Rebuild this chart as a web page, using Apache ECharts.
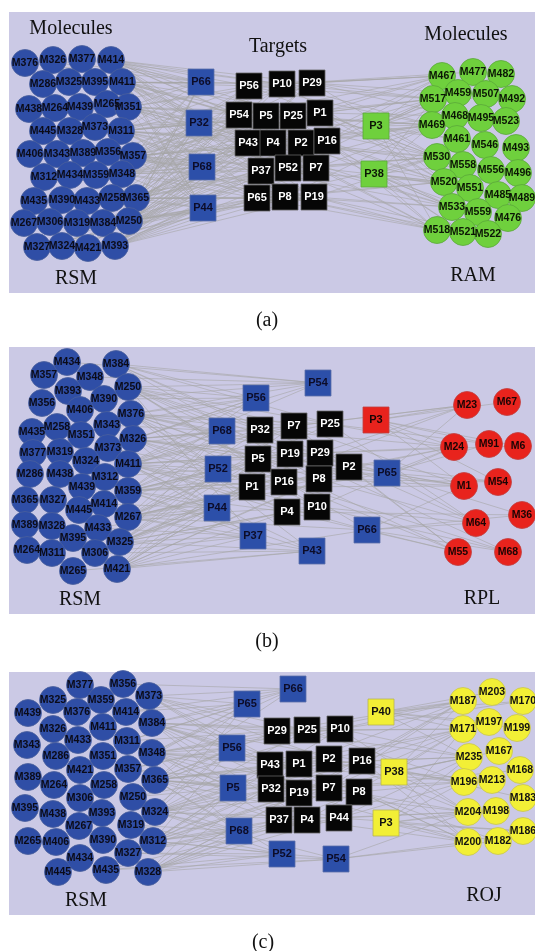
<!DOCTYPE html>
<html>
<head>
<meta charset="utf-8">
<script src="https://cdn.jsdelivr.net/npm/echarts@6/dist/echarts.min.js"></script>
<style>
  html, body { margin: 0; padding: 0; background: #fff; }
  #main { width: 535px; height: 951px; }
</style>
</head>
<body>
<div id="main"></div>
<script>
// ---- panel (a): RSM / RAM ----
var rsmA = [
  ['M376',25,63],['M326',53,60],['M377',82,59],['M414',111,60],
  ['M286',43,84],['M325',69,82],['M395',95,82],['M411',122,82],
  ['M438',29,109],['M264',55,108],['M439',80,107],['M265',107,104],['M351',128,107],
  ['M445',43,131],['M328',70,131],['M373',95,127],['M311',121,131],
  ['M406',30,154],['M343',57,154],['M389',83,153],['M356',108,152],['M357',133,156],
  ['M312',44,177],['M434',70,175],['M359',96,175],['M348',122,174],
  ['M435',34,201],['M390',62,200],['M433',87,201],['M258',112,198],['M365',136,198],
  ['M267',24,223],['M306',50,222],['M319',77,223],['M384',103,223],['M250',129,221],
  ['M327',37,247],['M324',62,246],['M421',88,248],['M393',115,246]
];
var ramA = [
  ['M467',442,76],['M477',473,72],['M482',501,74],
  ['M517',433,99],['M459',458,93],['M507',486,94],['M492',512,99],
  ['M469',432,125],['M468',455,116],['M495',481,118],['M523',506,121],
  ['M461',457,139],['M546',485,145],['M493',516,148],
  ['M530',437,157],['M558',463,165],['M556',491,170],['M496',518,173],
  ['M520',444,182],['M551',470,188],['M485',498,195],['M489',522,198],
  ['M533',452,207],['M559',478,212],['M476',508,218],
  ['M518',437,230],['M521',463,232],['M522',488,234]
];
var blueTargetsA = [['P66',201,82],['P32',199,123],['P68',202,167],['P44',203,208]];
var blackTargetsA = [
  ['P56',249,86],['P10',282,84],['P29',312,83],
  ['P54',239,115],['P5',266,116],['P25',293,116],['P1',320,113],
  ['P43',248,143],['P4',273,143],['P2',301,143],['P16',327,141],
  ['P37',261,171],['P52',288,168],['P7',316,168],
  ['P65',257,198],['P8',285,197],['P19',314,197]
];
var greenTargetsA = [['P3',376,126],['P38',374,174]];
var linksA = {
  P66: 'M376 M326 M377 M414 M411 M395 M351 M265 M311 M357 M348 M365 M250 M393',
  P32: 'M414 M411 M351 M311 M373 M357 M356 M348 M365 M258 M250 M384 M393 M421',
  P68: 'M414 M411 M351 M311 M357 M348 M359 M365 M250 M393 M324 M389 M343',
  P44: 'M414 M411 M265 M351 M311 M357 M348 M365 M258 M250 M384 M393 M327 M421',
  P56: 'M414 M411 M351 M311 M357 M348 M365 M250 M467 M517 M469 M530',
  P10: 'M377 M414 M395 M351 M357 M365 M393 M467 M477 M517 M469 M520',
  P29: 'M414 M411 M311 M348 M250 M393 M467 M459 M517 M468 M530',
  P54: 'M326 M414 M411 M351 M311 M357 M365 M258 M250 M421 M467 M469 M530 M520',
  P5:  'M414 M411 M373 M311 M357 M359 M348 M384 M393 M517 M469 M461 M533',
  P25: 'M414 M351 M311 M356 M357 M365 M250 M393 M467 M517 M469 M530 M518',
  P1:  'M411 M351 M311 M357 M348 M365 M250 M467 M517 M468 M530 M520',
  P43: 'M414 M411 M351 M311 M357 M348 M365 M258 M250 M393 M469 M530 M533',
  P4:  'M411 M265 M311 M357 M348 M365 M384 M393 M517 M469 M520 M518',
  P2:  'M414 M351 M311 M357 M348 M365 M250 M324 M467 M469 M530 M558 M533',
  P16: 'M411 M351 M311 M357 M365 M250 M393 M467 M517 M469 M520 M521',
  P37: 'M414 M411 M311 M357 M348 M365 M250 M393 M421 M469 M530 M520 M533',
  P52: 'M351 M311 M357 M348 M365 M258 M250 M393 M517 M530 M518',
  P7:  'M411 M311 M357 M365 M250 M384 M393 M469 M530 M520 M533 M518',
  P65: 'M414 M311 M357 M348 M365 M258 M250 M393 M421 M327 M530 M520 M518',
  P8:  'M411 M311 M357 M365 M250 M393 M324 M469 M520 M533 M518 M521',
  P19: 'M414 M351 M357 M348 M365 M250 M384 M393 M530 M533 M518 M522',
  P3:  'M467 M517 M469 M459 M468 M530 M461 M520 M533 M518 M482 M507',
  P38: 'M469 M530 M520 M558 M533 M518 M521 M551 M559 M461 M517 M489'
};

// ---- panel (b): RSM / RPL ----
var rsmB = [
  ['M434',67,362],['M384',116,364],['M357',44,375],['M348',90,377],
  ['M393',68,391],['M250',128,387],['M390',104,399],['M356',42,403],
  ['M406',80,410],['M376',131,414],['M435',32,432],['M258',57,427],
  ['M343',107,425],['M351',81,435],['M326',133,439],['M377',33,453],
  ['M319',60,452],['M373',108,448],['M324',86,461],['M411',128,464],
  ['M286',30,474],['M438',60,474],['M312',105,477],['M439',82,487],
  ['M359',128,491],['M365',25,500],['M327',53,500],['M414',104,504],
  ['M445',79,510],['M267',128,517],['M389',25,525],['M328',52,526],
  ['M433',98,528],['M395',73,538],['M325',120,542],['M264',27,550],
  ['M311',52,553],['M306',95,553],['M265',73,571],['M421',117,569]
];
var rplB = [
  ['M23',467,405],['M67',507,402],['M24',454,447],['M91',489,444],['M6',518,446],
  ['M1',464,486],['M54',498,482],['M64',476,523],['M36',522,515],
  ['M55',458,552],['M68',508,552]
];
var blueTargetsB = [
  ['P54',318,383],['P56',256,398],['P68',222,431],['P52',218,469],['P44',217,508],
  ['P37',253,536],['P43',312,551],['P66',367,530],['P65',387,473]
];
var blackTargetsB = [
  ['P32',260,430],['P7',294,426],['P25',330,424],
  ['P5',258,459],['P19',290,454],['P29',320,453],['P2',349,467],
  ['P1',252,487],['P16',284,482],['P8',319,479],
  ['P4',287,512],['P10',317,507]
];
var redTargetsB = [['P3',376,420]];
var linksB = {
  P54: 'M384 M250 M434 M348 M376 M390 M326 M411',
  P56: 'M384 M250 M376 M390 M343 M326 M411 M359 M373',
  P68: 'M250 M376 M326 M411 M359 M267 M325 M343 M373 M312',
  P52: 'M376 M326 M411 M359 M267 M325 M421 M414 M312 M373',
  P44: 'M326 M411 M359 M267 M325 M421 M306 M433 M414',
  P37: 'M411 M359 M267 M325 M421 M306 M433 M250',
  P43: 'M359 M267 M325 M421 M306 M265 M411 M376',
  P66: 'M250 M411 M267 M421 M55 M64 M68 M36 M1',
  P65: 'M376 M326 M359 M267 M23 M24 M1 M54 M64 M91',
  P3:  'M23 M67 M24 M91 M6 M1 M54',
  P32: 'M384 M250 M376 M326 M411 M359 M267 M23 M24',
  P7:  'M250 M376 M326 M411 M359 M325 M23 M1 M55',
  P25: 'M384 M250 M376 M411 M267 M24 M91 M64',
  P5:  'M376 M326 M411 M359 M267 M325 M421 M1 M55',
  P19: 'M250 M326 M411 M359 M267 M421 M24 M54 M68',
  P29: 'M384 M376 M411 M359 M325 M23 M6 M36',
  P2:  'M250 M326 M359 M267 M421 M24 M1 M64 M55',
  P1:  'M376 M411 M359 M267 M325 M421 M306 M23 M1',
  P16: 'M250 M326 M411 M267 M325 M24 M55 M68',
  P8:  'M384 M376 M359 M267 M421 M1 M54 M64',
  P4:  'M326 M411 M359 M325 M421 M306 M55 M36',
  P10: 'M250 M376 M411 M267 M325 M24 M64 M68'
};

// ---- panel (c): RSM / ROJ ----
var rsmC = [
  ['M377',80,685],['M356',123,684],['M325',53,700],['M359',101,700],['M373',149,696],
  ['M439',28,713],['M376',77,712],['M414',126,712],['M326',53,729],['M411',103,727],
  ['M384',152,723],['M343',27,745],['M433',78,740],['M311',127,741],['M286',56,756],
  ['M351',103,756],['M348',152,753],['M421',80,770],['M357',128,769],['M389',28,777],
  ['M264',54,785],['M258',104,785],['M365',155,780],['M306',80,798],['M250',133,797],
  ['M395',25,808],['M438',53,814],['M393',102,813],['M324',155,812],['M267',79,826],
  ['M319',131,825],['M265',28,841],['M406',56,842],['M390',103,840],['M312',153,841],
  ['M434',80,858],['M327',128,853],['M445',58,872],['M435',106,870],['M328',148,872]
];
var rojC = [
  ['M187',463,701],['M203',492,692],['M170',523,701],
  ['M171',463,729],['M197',489,722],['M199',517,728],
  ['M235',469,757],['M167',499,751],['M168',520,770],
  ['M196',464,782],['M213',492,780],['M183',523,798],
  ['M204',468,812],['M198',496,811],['M186',523,831],
  ['M200',468,842],['M182',498,841]
];
var blueTargetsC = [
  ['P66',293,689],['P65',247,704],['P56',232,748],['P5',233,788],
  ['P68',239,831],['P52',282,854],['P54',336,859]
];
var blackTargetsC = [
  ['P29',277,731],['P25',307,730],['P10',340,729],
  ['P43',270,765],['P1',299,764],['P2',329,759],['P16',362,761],
  ['P32',271,789],['P19',299,793],['P7',329,788],['P8',359,792],
  ['P37',279,820],['P4',307,820],['P44',339,818]
];
var yellowTargetsC = [['P40',381,712],['P38',394,772],['P3',386,823]];
var linksC = {
  P66: 'M373 M384 M414 M356 M348 M311 M365',
  P65: 'M373 M384 M348 M365 M311 M414 M324 M357',
  P56: 'M373 M384 M348 M365 M324 M312 M250 M357 M319',
  P5:  'M384 M348 M365 M324 M312 M328 M250 M319 M357 M311',
  P68: 'M348 M365 M324 M312 M328 M327 M319 M250',
  P52: 'M365 M324 M312 M328 M327 M435 M319',
  P54: 'M324 M312 M328 M327 M435 M200 M204 M182',
  P40: 'M187 M171 M203 M170 M199 M197 M235',
  P38: 'M187 M171 M235 M196 M204 M200 M167 M213',
  P3:  'M196 M204 M200 M182 M198 M235 M171 M186',
  P29: 'M373 M384 M348 M365 M311 M187 M171 M235',
  P25: 'M373 M384 M348 M324 M357 M187 M171 M196',
  P10: 'M384 M348 M365 M312 M187 M235 M204 M170',
  P43: 'M373 M384 M348 M365 M324 M312 M171 M196',
  P1:  'M384 M348 M365 M324 M328 M187 M235 M200',
  P2:  'M373 M348 M365 M312 M250 M171 M196 M204',
  P16: 'M384 M365 M324 M328 M187 M235 M200 M183',
  P32: 'M348 M365 M324 M312 M319 M171 M196 M204',
  P19: 'M384 M365 M312 M328 M327 M235 M200 M187',
  P7:  'M373 M348 M324 M312 M357 M171 M204 M168',
  P8:  'M384 M365 M324 M328 M196 M200 M182',
  P37: 'M348 M365 M312 M328 M327 M187 M204',
  P4:  'M384 M324 M312 M328 M435 M171 M200',
  P44: 'M365 M324 M327 M328 M235 M196 M204 M186'
};

// node looks
var looks = {
  mBlue:   { symbol: 'circle', size: 27, color: '#2f4ea6', border: '#4a5f9c', text: '#0b0b18', fs: 10.5 },
  mGreen:  { symbol: 'circle', size: 27, color: '#6fd03d', border: '#5aa83a', text: '#0b1605', fs: 10.5 },
  mRed:    { symbol: 'circle', size: 27, color: '#e8231d', border: '#c04040', text: '#1a0404', fs: 10.5 },
  mYellow: { symbol: 'circle', size: 27, color: '#f2ef36', border: '#c8c550', text: '#111111', fs: 10.5 },
  tBlue:   { symbol: 'rect', size: 26, color: '#2c4fa9', border: '#5c6fa8', text: '#0c0c28', fs: 11 },
  tBlack:  { symbol: 'rect', size: 26, color: '#060606', border: '#666666', text: '#ffffff', fs: 11 },
  tGreen:  { symbol: 'rect', size: 26, color: '#6fd03d', border: '#5aa83a', text: '#0b1605', fs: 11 },
  tRed:    { symbol: 'rect', size: 26, color: '#e8231d', border: '#c04040', text: '#1a0404', fs: 11 },
  tYellow: { symbol: 'rect', size: 26, color: '#f2ef36', border: '#b8b550', text: '#111111', fs: 11 }
};

var panels = [
  { groups: [[rsmA,'mBlue'],[ramA,'mGreen'],[blueTargetsA,'tBlue'],[blackTargetsA,'tBlack'],[greenTargetsA,'tGreen']], links: linksA },
  { groups: [[rsmB,'mBlue'],[rplB,'mRed'],[blueTargetsB,'tBlue'],[blackTargetsB,'tBlack'],[redTargetsB,'tRed']], links: linksB },
  { groups: [[rsmC,'mBlue'],[rojC,'mYellow'],[blueTargetsC,'tBlue'],[blackTargetsC,'tBlack'],[yellowTargetsC,'tYellow']], links: linksC }
];

var series = [];
panels.forEach(function (p) {
  var pos = {};
  p.groups.forEach(function (g) {
    g[0].forEach(function (n) { pos[n[0]] = [n[1], n[2]]; });
  });
  // edges
  var edges = [];
  Object.keys(p.links).forEach(function (t) {
    p.links[t].split(' ').forEach(function (m) {
      if (pos[m]) edges.push({ coords: [pos[t], pos[m]] });
    });
  });
  series.push({
    type: 'lines',
    coordinateSystem: 'cartesian2d',
    silent: true,
    z: 1,
    lineStyle: { color: '#a6a6a6', width: 0.7, opacity: 0.85 },
    data: edges
  });
  // nodes
  p.groups.forEach(function (g) {
    var lk = looks[g[1]];
    series.push({
      type: 'scatter',
      z: 3,
      silent: true,
      symbol: lk.symbol,
      symbolSize: lk.size,
      itemStyle: { color: lk.color, borderColor: lk.border, borderWidth: 0.8, opacity: 1 },
      label: {
        show: true,
        position: 'inside',
        formatter: '{b}',
        color: lk.text,
        fontSize: lk.fs,
        fontWeight: 'bold',
        fontFamily: 'Liberation Sans, Arial, sans-serif'
      },
      data: g[0].map(function (n) { return { name: n[0], value: [n[1], n[2]] }; })
    });
  });
});

var serif = 'Liberation Serif, Times New Roman, serif';
function txt(x, y, s, size) {
  return {
    type: 'text', x: x, y: y, z: 100,
    style: { text: s, fill: '#111', font: (size || 20) + 'px ' + serif, align: 'center', verticalAlign: 'middle' }
  };
}
function bg(y, h) {
  return { type: 'rect', z: -10, shape: { x: 9, y: y, width: 526, height: h }, style: { fill: '#cbc9e5' } };
}

var myChart = echarts.init(document.getElementById('main'));
var option = {
  animation: false,
  backgroundColor: '#ffffff',
  grid: { left: 0, right: 0, top: 0, bottom: 0 },
  xAxis: { type: 'value', min: 0, max: 535, show: false },
  yAxis: { type: 'value', min: 0, max: 951, inverse: true, show: false },
  graphic: [
    bg(12, 281), bg(347, 267), bg(672, 243),
    txt(71, 29, 'Molecules'), txt(278, 47, 'Targets'), txt(466, 35, 'Molecules'),
    txt(76, 279, 'RSM'), txt(473, 276, 'RAM'), txt(267, 321, '(a)'),
    txt(80, 600, 'RSM'), txt(482, 599, 'RPL'), txt(267, 642, '(b)'),
    txt(86, 901, 'RSM'), txt(484, 896, 'ROJ'), txt(263, 943, '(c)')
  ],
  series: series
};
myChart.setOption(option);
</script>
</body>
</html>
